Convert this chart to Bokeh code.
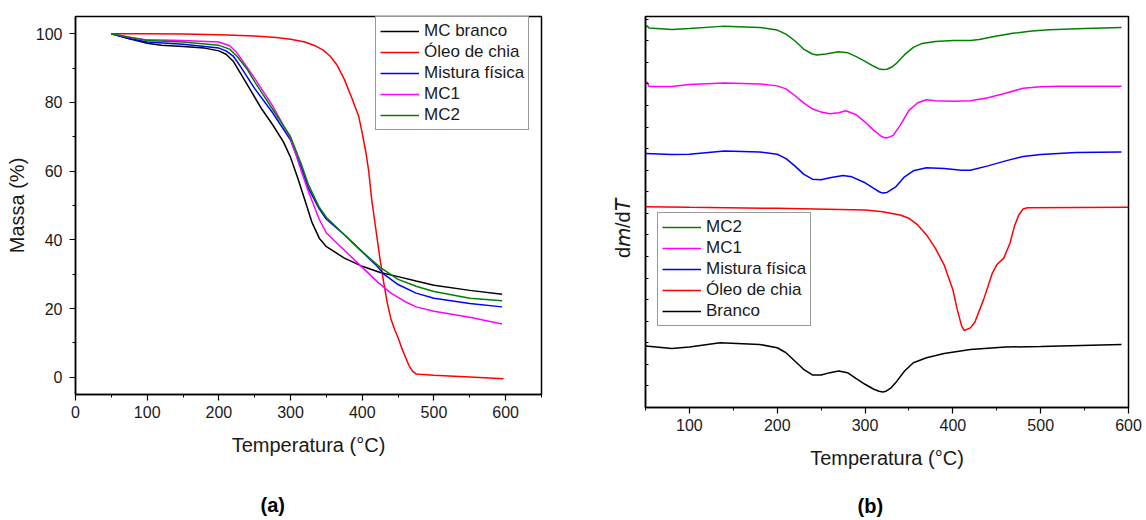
from bokeh.plotting import figure
from bokeh.models import (Range1d, SingleIntervalTicker, FixedTicker, Legend, LegendItem,
                          Title, LinearAxis)
from bokeh.embed import file_html
from bokeh.resources import INLINE

FONT = "Liberation Sans"

# ---------------- (a) TGA ----------------
black_x = [50, 75, 100, 120, 150, 180, 200, 210, 220, 230, 240, 250, 260, 275, 290, 300, 310, 320, 330, 340, 350, 375, 400, 425, 450, 475, 500, 550, 595]
black_y = [100, 98.5, 97.2, 96.6, 96.3, 95.8, 95.0, 94.0, 92.0, 88.5, 85.0, 81.5, 78.0, 73.5, 68.5, 64.0, 58.0, 51.5, 45.0, 40.5, 38.0, 34.7, 32.3, 30.5, 29.3, 28.0, 26.8, 25.3, 24.2]

red_x = [50, 100, 150, 200, 250, 280, 300, 320, 335, 345, 355, 365, 375, 385, 395, 400, 405, 409, 413, 417, 421, 425, 430, 435, 440, 445, 450, 455, 460, 465, 470, 475, 480, 500, 550, 597]
red_y = [100, 100, 99.9, 99.7, 99.3, 98.9, 98.4, 97.6, 96.4, 95.3, 93.5, 90.8, 86.7, 81.5, 76.0, 71.0, 65.5, 60.0, 52.0, 46.0, 40.0, 34.0, 27.5, 21.5, 17.0, 14.0, 11.5, 8.5, 6.0, 3.5, 1.8, 1.0, 0.9, 0.6, 0.1, -0.4]

blue_x = [50, 75, 100, 150, 200, 210, 220, 230, 250, 275, 300, 315, 325, 340, 350, 375, 400, 420, 430, 450, 475, 500, 550, 595]
blue_y = [100, 98.6, 97.6, 96.9, 95.8, 95.0, 93.5, 90.5, 84.0, 77.0, 69.0, 61.0, 55.0, 49.0, 46.0, 41.5, 36.5, 32.5, 30.0, 27.0, 24.5, 23.0, 21.5, 20.5]

mag_x = [50, 75, 100, 150, 200, 215, 225, 240, 250, 275, 300, 315, 325, 340, 350, 375, 400, 420, 440, 460, 475, 500, 550, 595]
mag_y = [100, 99.0, 98.2, 98.0, 97.6, 96.5, 94.5, 90.0, 87.0, 79.0, 69.5, 60.0, 54.0, 46.0, 42.0, 37.0, 32.0, 28.0, 24.5, 22.0, 20.5, 19.2, 17.5, 15.5]

green_x = [50, 75, 100, 150, 200, 215, 225, 240, 250, 275, 300, 315, 325, 340, 350, 375, 400, 425, 450, 475, 500, 550, 595]
green_y = [100, 99.0, 98.0, 97.6, 96.6, 95.5, 93.5, 89.5, 86.0, 78.0, 70.0, 62.0, 56.0, 49.5, 46.5, 41.5, 36.5, 32.0, 28.5, 26.5, 25.0, 23.0, 22.3]

# ---------------- (b) DTG (offset, arbitrary units) ----------------
d_green_x = [50, 52, 54, 80, 100, 140, 180, 200, 210, 220, 230, 240, 245, 255, 270, 280, 290, 300, 310, 316, 320, 325, 330, 335, 345, 355, 365, 380, 400, 420, 430, 450, 470, 490, 510, 550, 592]
d_green_y = [114.5, 115.0, 114.3, 113.9, 114.2, 114.9, 114.5, 113.7, 112.5, 110.5, 108.0, 106.5, 106.2, 106.5, 107.2, 106.9, 105.7, 104.3, 102.8, 102.0, 101.8, 101.9, 102.5, 103.5, 106.3, 108.5, 109.7, 110.3, 110.6, 110.6, 110.9, 111.9, 112.8, 113.4, 113.8, 114.2, 114.5]

d_mag_x = [50, 52, 54, 80, 100, 140, 180, 200, 210, 220, 230, 240, 250, 260, 270, 278, 290, 300, 310, 318, 322, 326, 332, 340, 350, 360, 370, 380, 400, 420, 440, 460, 480, 500, 520, 560, 592]
d_mag_y = [98.0, 98.0, 96.7, 96.7, 97.3, 97.8, 97.5, 96.9, 96.0, 94.0, 91.8, 90.0, 89.0, 88.5, 88.8, 89.4, 88.2, 86.0, 83.5, 81.8, 81.3, 81.3, 82.0, 85.0, 89.5, 91.8, 92.7, 92.4, 92.3, 92.4, 93.3, 94.7, 96.2, 96.6, 96.8, 96.8, 96.8]

d_blue_x = [50, 80, 100, 140, 180, 200, 210, 220, 230, 240, 250, 260, 275, 285, 300, 310, 316, 320, 325, 335, 345, 355, 370, 390, 410, 420, 440, 460, 480, 500, 540, 592]
d_blue_y = [76.5, 76.2, 76.3, 77.3, 77.0, 76.3, 75.0, 72.8, 70.3, 68.8, 68.6, 69.2, 69.9, 69.5, 67.7, 66.0, 65.0, 64.6, 64.8, 66.5, 69.5, 71.3, 72.2, 72.0, 71.5, 71.5, 72.8, 74.3, 75.6, 76.2, 76.8, 77.0]

d_red_x = [50, 100, 200, 300, 320, 340, 350, 360, 370, 380, 390, 400, 405, 410, 413, 420, 425, 435, 445, 450, 458, 465, 470, 475, 480, 485, 600]
d_red_y = [60.5, 60.3, 60.0, 59.5, 59.0, 58.0, 57.0, 55.0, 52.0, 48.0, 43.0, 35.5, 29.5, 24.5, 23.2, 24.0, 25.7, 32.5, 40.5, 43.0, 45.0, 49.5, 54.5, 58.0, 59.8, 60.2, 60.3]

d_black_x = [50, 80, 100, 135, 180, 200, 210, 220, 230, 240, 250, 260, 270, 280, 290, 300, 310, 316, 320, 324, 330, 335, 345, 355, 370, 390, 420, 460, 500, 592]
d_black_y = [18.5, 17.8, 18.2, 19.5, 19.0, 18.0, 16.5, 14.0, 11.5, 9.8, 9.8, 10.5, 11.0, 10.5, 8.7, 7.0, 5.5, 4.9, 4.7, 4.9, 6.0, 7.5, 11.0, 13.5, 15.0, 16.3, 17.5, 18.2, 18.4, 19.0]

labels_a = ["MC branco", "Óleo de chia", "Mistura física", "MC1", "MC2"]
labels_b = ["MC2", "MC1", "Mistura física", "Óleo de chia", "Branco"]

C_BLACK, C_RED, C_BLUE, C_MAG, C_GREEN = "#000000", "#FF0000", "#0000FF", "#FF00FF", "#008000"


def style_axes(p):
    for ax in (p.xaxis[0], p.yaxis[0]):
        ax.axis_line_color = "black"
        ax.axis_line_width = 1.5
        ax.major_tick_line_color = "black"
        ax.minor_tick_line_color = "black"
        ax.major_tick_line_width = 1.2
        ax.minor_tick_line_width = 1.0
        ax.major_tick_out = 6
        ax.major_tick_in = 0
        ax.minor_tick_out = 3
        ax.minor_tick_in = 0
        ax.major_label_text_font = FONT
        ax.major_label_text_font_size = "16px"
        ax.major_label_text_color = "#1a1a1a"
        ax.axis_label_text_font = FONT
        ax.axis_label_text_font_size = "20px"
        ax.axis_label_text_font_style = "normal"
        ax.axis_label_text_color = "#1a1a1a"
    p.xaxis[0].major_label_standoff = 5
    p.xaxis[0].axis_label_standoff = 13
    p.yaxis[0].major_label_standoff = 7
    p.yaxis[0].axis_label_standoff = 5
    p.xgrid.visible = False
    p.ygrid.visible = False
    p.outline_line_color = "black"
    p.outline_line_width = 1.5
    p.background_fill_color = "white"
    p.border_fill_color = "white"


def style_legend(lg):
    lg.label_text_font = FONT
    lg.label_text_font_size = "17px"
    lg.label_text_color = "#1a1a1a"
    lg.glyph_width = 39
    lg.glyph_height = 20
    lg.label_height = 20
    lg.label_standoff = 5
    lg.padding = 4
    lg.spacing = 1
    lg.margin = 0
    lg.border_line_color = "#333333"
    lg.border_line_width = 1
    lg.background_fill_alpha = 1.0


def spacer(size):
    # empty axis that only reserves vertical space below the x-axis title
    return LinearAxis(ticker=FixedTicker(ticks=[], minor_ticks=[]),
                      axis_line_color=None, major_tick_line_color="white",
                      minor_tick_line_color=None, major_tick_out=0,
                      major_tick_in=0, minor_tick_out=0, minor_tick_in=0,
                      major_label_standoff=0,
                      axis_label="\u00A0", axis_label_text_font_size="2px",
                      axis_label_text_color="white",
                      axis_label_standoff=size - 2)


def panel_title(text, offset):
    return Title(text=text, align="left", offset=offset, standoff=2,
                 vertical_align="top",
                 text_font=FONT, text_font_size="20px", text_font_style="bold",
                 text_color="black")


# ---------- figure (a) ----------
pa = figure(width=546, height=519, min_border_left=75, min_border_right=5,
            min_border_top=16, min_border_bottom=125,
            x_range=Range1d(0, 650), y_range=Range1d(-5, 105),
            output_backend="svg", toolbar_location=None)
pa.xaxis.ticker = SingleIntervalTicker(interval=100, num_minor_ticks=2)
pa.yaxis.ticker = SingleIntervalTicker(interval=20, num_minor_ticks=2)
pa.xaxis.axis_label = "Temperatura (°C)"
pa.yaxis.axis_label = "Massa (%)"
style_axes(pa)

ra = [
    pa.line(black_x, black_y, line_color=C_BLACK, line_width=1.5),
    pa.line(red_x, red_y, line_color=C_RED, line_width=1.5),
    pa.line(blue_x, blue_y, line_color=C_BLUE, line_width=1.5),
    pa.line(mag_x, mag_y, line_color=C_MAG, line_width=1.5),
    pa.line(green_x, green_y, line_color=C_GREEN, line_width=1.5),
]
leg_a = Legend(items=[LegendItem(label=l, renderers=[r]) for l, r in zip(labels_a, ra)],
               location=(300, 264))
style_legend(leg_a)
pa.add_layout(leg_a)
pa.add_layout(spacer(31), "below")
pa.add_layout(panel_title("(a)", 185), "below")

# ---------- figure (b) ----------
pb = figure(width=598, height=519, min_border_left=99, min_border_right=16,
            min_border_top=16, min_border_bottom=111,
            x_range=Range1d(50, 600), y_range=Range1d(0, 117.8),
            output_backend="svg", toolbar_location=None)
pb.xaxis.ticker = SingleIntervalTicker(interval=100, num_minor_ticks=2)
pb.yaxis.ticker = FixedTicker(ticks=[], minor_ticks=[6.5 * k for k in range(1, 19)])
pb.xaxis.axis_label = "Temperatura (°C)"
pb.yaxis.axis_label = "d\U0001D62E/d\U0001D61B" + "\u00A0" * 6
style_axes(pb)
pb.yaxis.minor_tick_in = 3
pb.yaxis.minor_tick_out = 0
pb.yaxis.axis_label_standoff = 12

rb = [
    pb.line(d_green_x, d_green_y, line_color=C_GREEN, line_width=1.5),
    pb.line(d_mag_x, d_mag_y, line_color=C_MAG, line_width=1.5),
    pb.line(d_blue_x, d_blue_y, line_color=C_BLUE, line_width=1.5),
    pb.line(d_red_x, d_red_y, line_color=C_RED, line_width=1.5),
    pb.line(d_black_x, d_black_y, line_color=C_BLACK, line_width=1.5),
]
leg_b = Legend(items=[LegendItem(label=l, renderers=[r]) for l, r in zip(labels_b, rb)],
               location=(12, 81))
style_legend(leg_b)
pb.add_layout(leg_b)
pb.add_layout(spacer(19), "below")
pb.add_layout(panel_title("(b)", 212), "below")

TEMPLATE = """
{% block postamble %}
<style>
  body { display: flex !important; flex-direction: row; align-items: flex-start; }
</style>
{% endblock %}
"""

open("out.html", "w").write(file_html([pa, pb], INLINE, template=TEMPLATE))
